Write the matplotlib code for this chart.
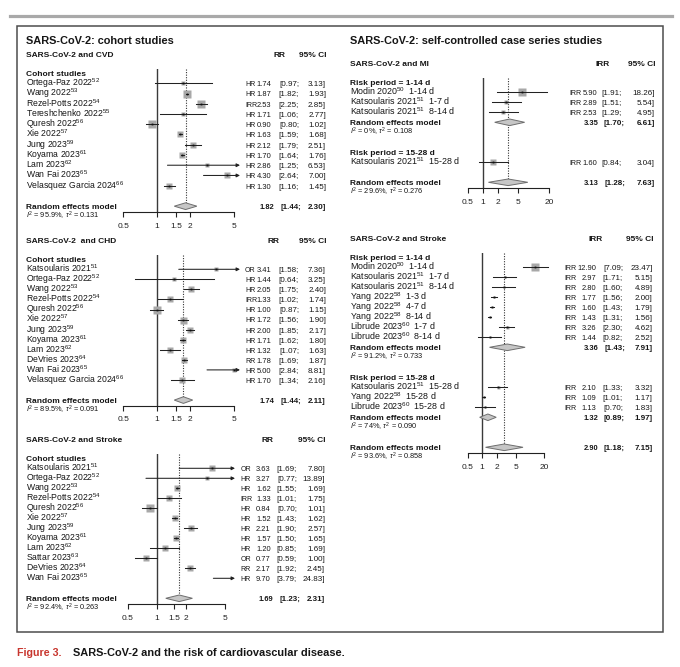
import numpy as np
import matplotlib
matplotlib.use('Agg')
import matplotlib.pyplot as plt
from matplotlib.transforms import blended_transform_factory
from matplotlib.patches import Rectangle
from matplotlib.lines import Line2D
from matplotlib.ticker import NullLocator

plt.rcParams['font.family'] = ['Liberation Sans', 'DejaVu Sans']
plt.rcParams['mathtext.fontset'] = 'custom'
plt.rcParams['mathtext.rm'] = 'Liberation Sans'
plt.rcParams['mathtext.it'] = 'Liberation Sans:italic'
plt.rcParams['mathtext.bf'] = 'Liberation Sans:bold'

# ---------------- data ----------------
# cohort: CVD
cvd_names = ["Ortega-Paz 2022", "Wang 2022", "Rezel-Potts 2022", "Tereshchenko 2022", "Quresh 2022",
             "Xie 2022", "Jung 2023", "Koyama 2023", "Lam 2023", "Wan Fai 2023", "Velasquez Garcia 2024"]
cvd_refs = [52, 53, 54, 55, 56, 57, 59, 61, 62, 65, 66]
cvd_type = ["HR", "HR", "IRR", "HR", "HR", "HR", "HR", "HR", "HR", "HR", "HR"]
cvd_rr = [1.74, 1.87, 2.53, 1.71, 0.90, 1.63, 2.12, 1.70, 2.86, 4.30, 1.30]
cvd_lo = [0.97, 1.82, 2.25, 1.06, 0.80, 1.59, 1.79, 1.64, 1.25, 2.64, 1.16]
cvd_hi = [3.13, 1.93, 2.85, 2.77, 1.02, 1.68, 2.51, 1.76, 6.53, 7.00, 1.45]
cvd_w = [5, 7.3, 7.3, 5, 7.5, 6.7, 6.7, 6.7, 4.7, 6, 6.7]
cvd_pool = [1.82, 1.44, 2.30]
cvd_het = ["95.9%", "0.131"]

# cohort: CHD
chd_names = ["Katsoularis 2021", "Ortega-Paz 2022", "Wang 2022", "Rezel-Potts 2022", "Quresh 2022", "Xie 2022",
             "Jung 2023", "Koyama 2023", "Lam 2023", "DeVries 2023", "Wan Fai 2023", "Velasquez Garcia 2024"]
chd_refs = [51, 52, 53, 54, 56, 57, 59, 61, 62, 64, 65, 66]
chd_type = ["OR", "HR", "HR", "IRR", "HR", "HR", "HR", "HR", "HR", "RR", "HR", "HR"]
chd_rr = [3.41, 1.44, 2.05, 1.33, 1.00, 1.72, 2.00, 1.71, 1.32, 1.78, 5.00, 1.70]
chd_lo = [1.58, 0.64, 1.75, 1.02, 0.87, 1.56, 1.85, 1.62, 1.07, 1.69, 2.84, 1.34]
chd_hi = [7.36, 3.25, 2.40, 1.74, 1.15, 1.90, 2.17, 1.80, 1.63, 1.87, 8.81, 2.16]
chd_w = [3.5, 4, 6.7, 6, 7.3, 7, 6.7, 6.3, 6, 5.7, 4.3, 6]
chd_pool = [1.74, 1.44, 2.11]
chd_het = ["89.5%", "0.091"]

# cohort: stroke
str_names = ["Katsoularis 2021", "Ortega-Paz 2022", "Wang 2022", "Rezel-Potts 2022", "Quresh 2022", "Xie 2022",
             "Jung 2023", "Koyama 2023", "Lam 2023", "Sattar 2023", "DeVries 2023", "Wan Fai 2023"]
str_refs = [51, 52, 53, 54, 56, 57, 59, 61, 62, 63, 64, 65]
str_type = ["OR", "HR", "HR", "IRR", "HR", "HR", "HR", "HR", "HR", "OR", "RR", "HR"]
str_rr = [3.63, 3.27, 1.62, 1.33, 0.84, 1.52, 2.21, 1.57, 1.20, 0.77, 2.17, 9.70]
str_lo = [1.69, 0.77, 1.55, 1.01, 0.70, 1.43, 1.90, 1.50, 0.85, 0.59, 1.92, 3.79]
str_hi = [7.80, 13.89, 1.69, 1.75, 1.01, 1.62, 2.57, 1.65, 1.69, 1.00, 2.45, 24.83]
str_w = [5.7, 4, 6.3, 6.7, 7.3, 6.3, 6.7, 6, 6.3, 6.7, 6.7, 5]
str_pool = [1.69, 1.23, 2.31]
str_het = ["92.4%", "0.263"]

# self-controlled case series: MI
mi1_names = ["Modin 2020", "Katsoularis 2021", "Katsoularis 2021"]
mi1_refs = [50, 51, 51]
mi1_win = ["1-14 d", "1-7 d", "8-14 d"]
mi1_rr = [5.90, 2.89, 2.53]
mi1_lo = [1.91, 1.51, 1.29]
mi1_hi = [18.26, 5.54, 4.95]
mi1_w = [7.3, 5, 5]
mi1_pool = [3.35, 1.70, 6.61]
mi1_het = ["0%", "0.108"]
mi2_names = ["Katsoularis 2021"]
mi2_refs = [51]
mi2_win = ["15-28 d"]
mi2_rr = [1.60]
mi2_lo = [0.84]
mi2_hi = [3.04]
mi2_w = [6]
mi_pool = [3.13, 1.28, 7.63]
mi_het = ["29.6%", "0.276"]

# self-controlled case series: stroke
ss1_names = ["Modin 2020", "Katsoularis 2021", "Katsoularis 2021", "Yang 2022", "Yang 2022", "Yang 2022",
             "Librude 2023", "Librude 2023"]
ss1_refs = [50, 51, 51, 58, 58, 58, 60, 60]
ss1_win = ["1-14 d", "1-7 d", "8-14 d", "1-3 d", "4-7 d", "8-14 d", "1-7 d", "8-14 d"]
ss1_rr = [12.90, 2.97, 2.80, 1.77, 1.60, 1.43, 3.26, 1.44]
ss1_lo = [7.09, 1.71, 1.60, 1.56, 1.43, 1.31, 2.30, 0.82]
ss1_hi = [23.47, 5.15, 4.89, 2.00, 1.79, 1.56, 4.62, 2.52]
ss1_w = [7.3, 2.5, 2.5, 2.5, 2.5, 2.5, 3, 2]
ss1_pool = [3.36, 1.43, 7.91]
ss1_het = ["91.2%", "0.733"]
ss2_names = ["Katsoularis 2021", "Yang 2022", "Librude 2023"]
ss2_refs = [51, 58, 60]
ss2_win = ["15-28 d", "15-28 d", "15-28 d"]
ss2_rr = [2.10, 1.09, 1.13]
ss2_lo = [1.33, 1.01, 0.70]
ss2_hi = [3.32, 1.17, 1.83]
ss2_w = [3, 2, 2]
ss2_pool = [1.32, 0.89, 1.97]
ss2_het = ["74%", "0.090"]
ss_pool = [2.90, 1.18, 7.15]
ss_het = ["93.6%", "0.858"]

# ---------------- drawing ----------------
W, H = 680, 667
TXT = '#161616'
BOX = '#a8a8a8'
fig = plt.figure(figsize=(W / 100, H / 100), dpi=100)


def grp(label, names, refs, rr, lo, hi, w, kind=None, win=None, pool=None, het=None):
    return dict(label=label, names=names, refs=refs, rr=rr, lo=lo, hi=hi, w=w,
                kind=kind, win=win, pool=pool, het=het)


def het_text(h):
    return r"$I^2$ = " + h[0] + r", $\tau^2$ = " + h[1]


def forest(L, head, measure, groups, pool, het):
    # row layout (R meta style)
    r = -1
    layout = []
    for g in groups:
        layout.append(('label', r, g))
        r += 1
        for i in range(len(g['rr'])):
            layout.append(('study', r, (g, i)))
            r += 1
        if g['pool'] is not None:
            layout.append(('pool', r, (g['pool'], g['het'])))
            r += 2
        r += 1
    r_all = r
    r_axis = r_all + 0.6
    r_top = -1.4

    y0, dy = L['y0'], L['dy']
    top_px = y0 + r_top * dy
    bot_px = y0 + r_axis * dy
    ax = fig.add_axes([L['xl'] / W, 1 - bot_px / H, (L['xr'] - L['xl']) / W, (bot_px - top_px) / H])
    ax.set_xscale('log')
    xlo = np.exp((L['xl'] - L['x1']) / L['k'])
    xhi = np.exp((L['xr'] - L['x1']) / L['k'])
    ax.set_xlim(xlo, xhi)
    ax.set_ylim(r_axis, r_top)
    ax.patch.set_visible(False)
    for s in ['top', 'left', 'right']:
        ax.spines[s].set_visible(False)
    ax.spines['bottom'].set_bounds(L['ticks'][0], L['ticks'][-1])
    ax.spines['bottom'].set_linewidth(0.8)
    ax.spines['bottom'].set_color('#222222')
    ax.set_yticks([])
    ax.set_xticks(L['ticks'], labels=['%g' % t for t in L['ticks']])
    ax.xaxis.set_minor_locator(NullLocator())
    ax.tick_params(axis='x', direction='out', length=3.4, width=0.8, pad=4.0,
                   labelsize=6.0, colors='#222222')

    ax.axvline(1, color='#3a3a3a', lw=1.0)
    ax.vlines(pool[0], r_top, r_all - 0.35, colors='#333333', lw=0.8, linestyles=(0, (1, 1.3)))

    tr = blended_transform_factory(fig.transFigure, ax.transData)
    base = 2.9 / dy

    def T(x, row, s, **kw):
        kw.setdefault('fontsize', L['fs'])
        kw.setdefault('color', TXT)
        ax.text(x / W, row + base, s, transform=tr, va='baseline', **kw)

    T(L['name_x'], -2.9, head, fontweight='bold', fontsize=L['hfs'])
    T(L['meas_x'], -2.9, measure, fontweight='bold', fontsize=L['hfs'], ha='center')
    T(L['hdr_x'], -2.9, "95% CI", fontweight='bold', fontsize=L['hfs'], ha='right')

    def pooled(row, p, h):
        ax.fill([p[1], p[0], p[2], p[0]], [row, row - 0.33, row, row + 0.33],
                facecolor='#c6c6c6', edgecolor='#6e6e6e', lw=0.7, zorder=3)
        T(L['name_x'], row, "Random effects model", fontweight='bold', fontsize=L['hfs'])
        T(L['name_x'], row + 0.95, het_text(h), fontsize=5.3)
        T(L['sval_x'], row, "%.2f" % p[0], fontweight='bold', ha='right', fontsize=L['nfs'])
        T(L['slo_x'], row, "[%.2f;" % p[1], fontweight='bold', ha='right', fontsize=L['cfs'])
        T(L['hi_x'], row, "%.2f]" % p[2], fontweight='bold', ha='right', fontsize=L['cfs'])

    for kind, row, obj in layout:
        if kind == 'label':
            T(L['name_x'], row, obj['label'], fontweight='bold', fontsize=L['hfs'])
        elif kind == 'study':
            g, i = obj
            est, lo, hi = g['rr'][i], g['lo'][i], g['hi'][i]
            lab = g['names'][i] + "$^{%d}$" % g['refs'][i]
            if g['win'] is not None:
                lab += "  " + g['win'][i]
            T(L['name_x'], row, lab)
            kind_txt = g['kind'][i] if g['kind'] is not None else "IRR"
            T(L['type_x'], row, kind_txt, fontsize=L['tfs'])
            T(L['val_x'], row, "%.2f" % est, ha='right', fontsize=L['nfs'])
            T(L['lo_x'], row, "[%.2f;" % lo, ha='right', fontsize=L['cfs'])
            T(L['hi_x'], row, "%.2f]" % hi, ha='right', fontsize=L['cfs'])
            if xlo <= est <= xhi:
                ax.plot([est], [row], marker='s', ms=g['w'][i] * 0.72, color=BOX, mec='none', zorder=2)
            a = max(lo, xlo)
            if hi > xhi:
                ax.annotate('', xy=(xhi, row), xytext=(a, row),
                            arrowprops=dict(arrowstyle='-|>', color='#222222', lw=0.75,
                                            mutation_scale=5, shrinkA=0, shrinkB=0), zorder=4)
            else:
                ax.plot([a, hi], [row, row], color='#222222', lw=0.75, zorder=3)
            if xlo <= est <= xhi:
                ax.plot([est], [row], marker='s', ms=1.3, color='#111111', mec='none', zorder=5)
        elif kind == 'pool':
            pooled(row, obj[0], obj[1])
    pooled(r_all, pool, het)
    return ax


left = dict(xl=120, xr=240, x1=156.7, k=48.2, ticks=[0.5, 1, 1.5, 2, 5], name_x=26,
            type_x=245, val_x=271.5, lo_x=299, hi_x=326, sval_x=274, slo_x=301, meas_x=279, hdr_x=326.5,
            fs=6.2, hfs=6.0, tfs=5.0, nfs=5.4, cfs=5.8)

L1 = dict(left, y0=83.3, dy=10.24)
forest(L1, "SARS-CoV-2 and CVD", "RR",
       [grp("Cohort studies", cvd_names, cvd_refs, cvd_rr, cvd_lo, cvd_hi, cvd_w, kind=cvd_type)],
       cvd_pool, cvd_het)

L2 = dict(left, y0=269.3, dy=10.06, meas_x=274)
forest(L2, "SARS-CoV-2  and CHD", "RR",
       [grp("Cohort studies", chd_names, chd_refs, chd_rr, chd_lo, chd_hi, chd_w, kind=chd_type)],
       chd_pool, chd_het)

L3 = dict(left, y0=468.3, dy=10.0, xl=125, xr=235, x1=157, k=42.3, type_x=240.7, val_x=270.7,
          lo_x=297, hi_x=325, sval_x=273.5, slo_x=300, meas_x=268, hdr_x=325)
forest(L3, "SARS-CoV-2 and Stroke", "RR",
       [grp("Cohort studies", str_names, str_refs, str_rr, str_lo, str_hi, str_w, kind=str_type)],
       str_pool, str_het)

right = dict(xl=465, xr=552, ticks=[0.5, 1, 2, 5, 20], name_x=350, fs=6.4, hfs=6.0, tfs=5.0, nfs=5.4, cfs=5.8)

R1 = dict(right, y0=92.3, dy=10.0, x1=483, k=22.04, type_x=569, val_x=597, lo_x=622, hi_x=655,
          sval_x=598.5, slo_x=625, meas_x=603, hdr_x=655)
forest(R1, "SARS-CoV-2 and MI", "IRR",
       [grp("Risk period = 1-14 d", mi1_names, mi1_refs, mi1_rr, mi1_lo, mi1_hi, mi1_w,
            win=mi1_win, pool=mi1_pool, het=mi1_het),
        grp("Risk period = 15-28 d", mi2_names, mi2_refs, mi2_rr, mi2_lo, mi2_hi, mi2_w, win=mi2_win)],
       mi_pool, mi_het)

R2 = dict(right, y0=267.3, dy=10.0, x1=482.1, k=20.8, type_x=564, val_x=596.5, lo_x=623, hi_x=652.5,
          sval_x=598.5, slo_x=625, meas_x=596, hdr_x=653)
forest(R2, "SARS-CoV-2 and Stroke", "IRR",
       [grp("Risk period = 1-14 d", ss1_names, ss1_refs, ss1_rr, ss1_lo, ss1_hi, ss1_w,
            win=ss1_win, pool=ss1_pool, het=ss1_het),
        grp("Risk period = 15-28 d", ss2_names, ss2_refs, ss2_rr, ss2_lo, ss2_hi, ss2_w,
            win=ss2_win, pool=ss2_pool, het=ss2_het)],
       ss_pool, ss_het)

# titles, frame and caption
fig.text(26 / W, 1 - 44 / H, "SARS-CoV-2: cohort studies", fontsize=7.9, fontweight='bold',
         color=TXT, va='baseline')
fig.text(350 / W, 1 - 44 / H, "SARS-CoV-2: self-controlled case series studies", fontsize=7.9,
         fontweight='bold', color=TXT, va='baseline')
fig.add_artist(Rectangle((17 / W, 1 - 632 / H), (663 - 17) / W, (632 - 25.5) / H,
                         transform=fig.transFigure, fill=False, ec='#4d4d4d', lw=1.1))
fig.add_artist(Line2D([10 / W, 672 / W], [1 - 15.5 / H] * 2, transform=fig.transFigure,
                      color='#a9a9a9', lw=2.3))
fig.text(17 / W, 1 - 655.5 / H, "Figure 3.", fontsize=7.7, fontweight='bold', color='#c8362e', va='baseline')
fig.text(73 / W, 1 - 655.5 / H, "SARS-CoV-2 and the risk of cardiovascular disease.", fontsize=7.9,
         fontweight='bold', color=TXT, va='baseline')

fig.savefig('out.png', dpi=100, facecolor='white')
